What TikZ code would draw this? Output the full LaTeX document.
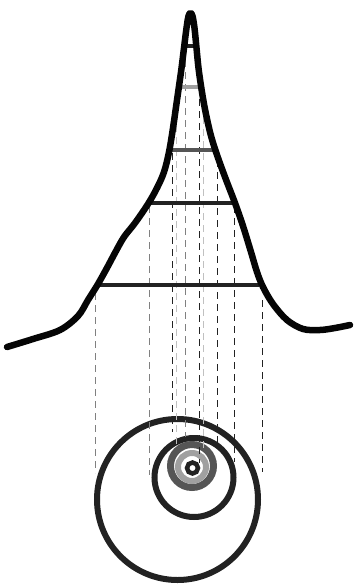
\documentclass[tikz,border=0pt]{standalone}
\begin{document}
\begin{tikzpicture}[x=1pt,y=-1pt]
\definecolor{cblack}{HTML}{050505}
\definecolor{cdark}{HTML}{222222}
\definecolor{cmid}{HTML}{555555}
\definecolor{cgray}{HTML}{808080}
\definecolor{clight}{HTML}{A0A0A0}
\definecolor{cpale}{HTML}{C0C0C0}
\tikzset{
  dline/.style={dash pattern=on 7pt off 5pt, line width=0.8pt},
  level/.style={line width=3.6pt},
  ring/.style={line width=6pt},
  profile/.style={line width=6.5pt, line cap=round, line join=round}
}
\useasboundingbox (0,0) rectangle (354,584);
% circles
\draw[ring, cdark] (177.5,499.5) circle (80.5);
\draw[ring, cdark] (194,477.5) circle (39.5);
\draw[line width=7pt, cmid] (192,466) circle (21.5);
\draw[ring, clight] (192,467) circle (14);
\draw[line width=4.5pt, cdark] (192.5,468) circle (5.5);
% dashed projections
\draw[dline, cgray]  (95,293) -- (95,473);
\draw[dline, cgray]  (149,206) -- (149,475);
\draw[dline, cdark]  (172,153) -- (172,432);
\draw[dline, cpale]  (176,125) -- (176,448);
\draw[dline, cgray]  (185,48) -- (185,437);
\draw[dline, cdark]  (199,75) -- (199,463);
\draw[dline, cpale]  (203,105) -- (203,450);
\draw[dline, cdark]  (217,160) -- (217,448);
\draw[dline, cdark]  (234,206) -- (234,462);
\draw[dline, cdark]  (262,300) -- (262,472);
% level lines
\draw[level, cdark]  (185,46) -- (194,46);
\draw[level, clight] (181,87) -- (199,87);
\draw[level, cmid]   (171,150) -- (214,150);
\draw[level, cdark]  (150,203) -- (234,203);
\draw[level, cdark]  (99,285) -- (259,285);
% profile curve
\draw[profile, cblack] plot[smooth, tension=0.55] coordinates {
  (7,347) (33,339) (60,330) (78,316) (88,300) (98,284) (108,266)
  (116,251) (124,237) (135,223) (148,204) (157,188) (164,172)
  (169,152) (173,128) (177,100) (181,72) (184,48) (186.5,28) (188.5,16) (190.5,13)
  (192.5,16) (194.5,28) (196.5,48) (199,72) (204,104) (210,132) (216,152)
  (225,177) (235,203) (243,226) (251,252) (257,272) (263,287)
  (273,304) (287,320) (303,329) (320,330) (335,328) (350,325)};
\end{tikzpicture}
\end{document}
